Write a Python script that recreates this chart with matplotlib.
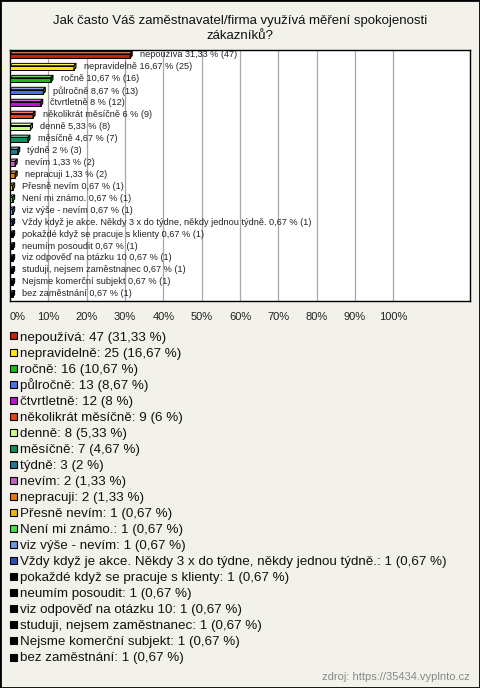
import matplotlib
matplotlib.use("Agg")
import matplotlib.pyplot as plt
from matplotlib.patches import Polygon, Rectangle
import numpy as np

plt.rcParams["font.family"] = ["Liberation Sans", "DejaVu Sans"]

# data
answers = [
    "nepoužívá", "nepravidelně", "ročně", "půlročně", "čtvrtletně",
    "několikrát měsíčně", "denně", "měsíčně", "týdně", "nevím", "nepracuji",
    "Přesně nevím", "Není mi známo.", "viz výše - nevím",
    "Vždy když je akce. Někdy 3 x do týdne, někdy jednou týdně.",
    "pokaždé když se pracuje s klienty", "neumím posoudit",
    "viz odpověď na otázku 10", "studuji, nejsem zaměstnanec",
    "Nejsme komerční subjekt", "bez zaměstnání",
]
counts = [47, 25, 16, 13, 12, 9, 8, 7, 3, 2, 2, 1, 1, 1, 1, 1, 1, 1, 1, 1, 1]
total = 150
colors = [
    "#C8200C", "#FFE800", "#12C012", "#4A70F0", "#C010D0", "#E84010",
    "#C8FF80", "#10905A", "#1E7890", "#C060C0", "#E87800", "#E8B800",
    "#40E040", "#6A98E0", "#2850B0", "#000000", "#000000", "#000000",
    "#000000", "#000000", "#000000",
]
ticks = [0, 10, 20, 30, 40, 50, 60, 70, 80, 90, 100]

W, H = 480, 688
bg = "#F3F2EA"


def fx(px):
    return px / W


def fy(py):
    return 1 - py / H


def fmt(p):
    s = f"{p:.2f}".rstrip("0").rstrip(".")
    return s.replace(".", ",")


def shade(c, f):
    rgb = np.array(matplotlib.colors.to_rgb(c))
    if f > 1:
        rgb = rgb + (1 - rgb) * (f - 1)
    else:
        rgb = rgb * f
    return tuple(np.clip(rgb, 0, 1))


pcts = [c / total * 100 for c in counts]
n = len(answers)

fig = plt.figure(figsize=(4.8, 6.88), dpi=100, facecolor=bg)
fig.add_artist(Rectangle((0, 0), 1, 1, transform=fig.transFigure,
                         fill=False, edgecolor="black", linewidth=2))

fig.text(0.5, fy(24), "Jak často Váš zaměstnavatel/firma využívá měření spokojenosti",
         ha="center", va="baseline", fontsize=9.5, color="#111111")
fig.text(0.5, fy(39), "zákazníků?", ha="center", va="baseline",
         fontsize=9.5, color="#111111")

ax = fig.add_axes([fx(10), fy(301), fx(460), (301 - 50) / H])
ax.set_facecolor("white")
ax.set_xlim(0, 120)
ax.set_ylim(n - 0.5, -0.5)

for t in ticks[1:]:
    ax.axvline(t, color="#A8A8A8", linewidth=0.9, zorder=0)

y = np.arange(n)
bh = 0.36
dx = 0.55   # depth in % units
dy = 0.2    # depth in category units
ax.barh(y, pcts, height=bh, color=colors, edgecolor="black", linewidth=0.7, zorder=3)
for yi, p, c in zip(y, pcts, colors):
    top = yi - bh / 2
    ax.add_patch(Polygon([(0, top), (dx, top - dy), (p + dx, top - dy), (p, top)],
                         closed=True, facecolor=shade(c, 1.35), edgecolor="black",
                         linewidth=0.7, zorder=3))
    ax.add_patch(Polygon([(p, top), (p + dx, top - dy), (p + dx, yi + bh / 2 - dy),
                          (p, yi + bh / 2)],
                         closed=True, facecolor=shade(c, 0.55), edgecolor="black",
                         linewidth=0.7, zorder=3))

for yi, name, p, cnt in zip(y, answers, pcts, counts):
    ax.annotate(f"{name} {fmt(p)} % ({cnt})", (p + dx, yi - dy / 2),
                xytext=(5.5, 0), textcoords="offset points", va="center",
                ha="left", fontsize=6.6, color="#222222", zorder=4)

ax.set_yticks([])
ax.set_xticks(ticks)
ax.set_xticklabels([f"{t}%" for t in ticks], fontsize=8, color="#222222")
ax.tick_params(axis="x", length=0, pad=8)
ax.get_xticklabels()[0].set_horizontalalignment("left")
for s in ax.spines.values():
    s.set_linewidth(1)
    s.set_color("black")

# legend
for i, (name, p, cnt, c) in enumerate(zip(answers, pcts, counts, colors)):
    yc = 336 + i * 16.05
    fig.add_artist(Rectangle((fx(10), fy(yc + 3.5)), fx(7), 7 / H,
                             transform=fig.transFigure, facecolor=c,
                             edgecolor="black", linewidth=0.8))
    fig.text(fx(20), fy(yc + 4.5), f"{name}: {cnt} ({fmt(p)} %)", ha="left",
             va="baseline", fontsize=9.6, color="#111111")

fig.text(fx(470), fy(680), "zdroj: https://35434.vyplnto.cz", ha="right",
         va="baseline", fontsize=8, color="#888888")

fig.savefig("out.png", dpi=100, facecolor=bg)
